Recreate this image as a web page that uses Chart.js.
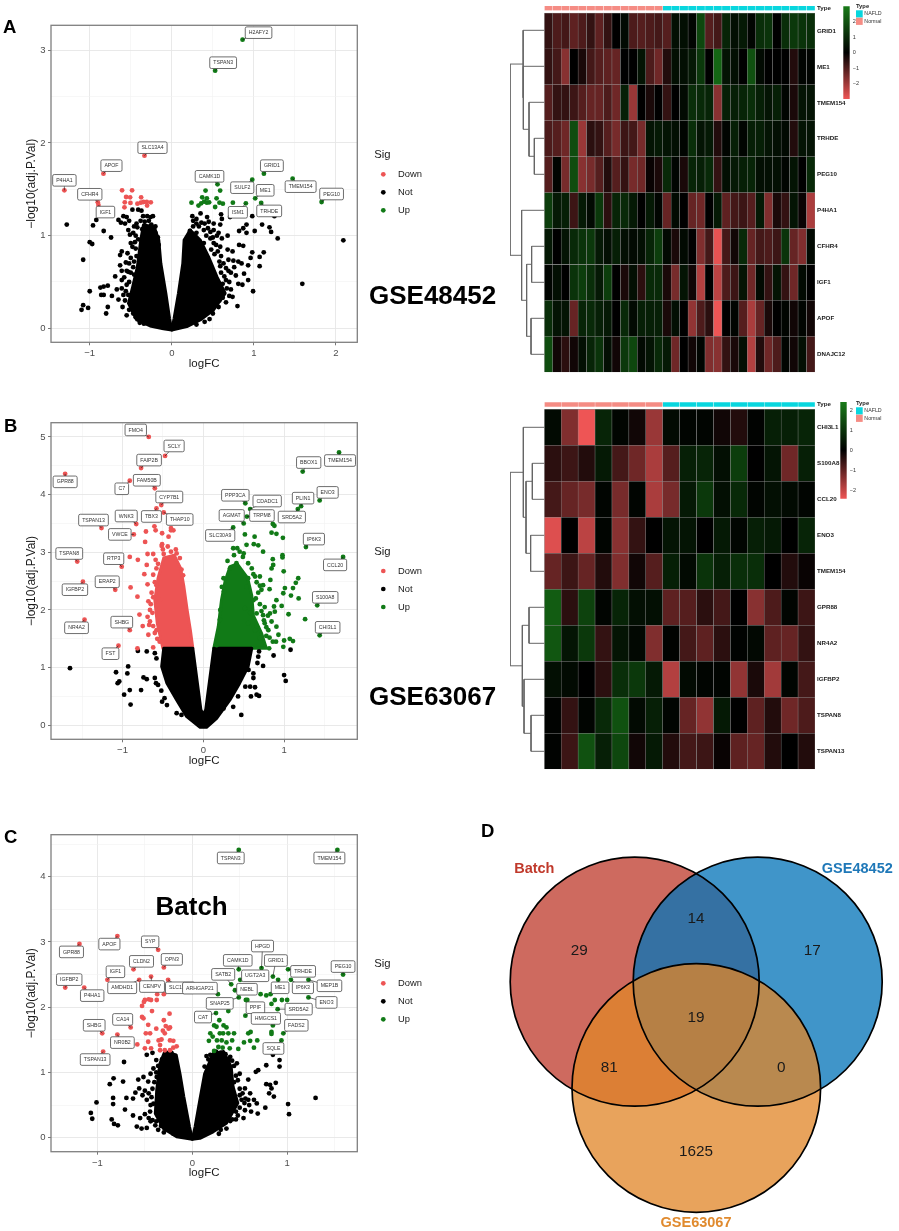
<!DOCTYPE html>
<html>
<head>
<meta charset="utf-8">
<title>Volcano, heatmap and Venn panels</title>
<script src="https://cdn.jsdelivr.net/npm/chart.js@4/dist/chart.umd.min.js"></script>
<style>
  html, body { margin: 0; background: #fff; }
  body { position: relative; width: 899px; height: 1231px; overflow: hidden; font-family: "Liberation Sans", Arial, sans-serif; }
  canvas { position: absolute; }
  .txt { position: absolute; font-weight: bold; line-height: 1; color: #000; white-space: nowrap; z-index: 5; }
  .letra { font-size: 18.5px; }
  .grande { font-size: 26px; }
</style>
</head>
<body>
<div class="txt letra" style="left:3px;top:18px">A</div>
<div class="txt letra" style="left:4px;top:417px">B</div>
<div class="txt letra" style="left:4px;top:828px">C</div>
<div class="txt letra" style="left:481px;top:822px">D</div>
<div class="txt grande" style="left:369px;top:282px">GSE48452</div>
<div class="txt grande" style="left:369px;top:683px">GSE63067</div>
<div class="txt grande" style="left:155.5px;top:893px">Batch</div>

<canvas id="volcA" width="450" height="380" style="left:0;top:0"></canvas>
<canvas id="volcB" width="450" height="380" style="left:0;top:400px"></canvas>
<canvas id="volcC" width="450" height="380" style="left:0;top:810px"></canvas>
<canvas id="dendA" width="35" height="380" style="left:510px;top:0"></canvas>
<canvas id="heatA" width="315" height="380" style="left:540px;top:0"></canvas>
<canvas id="barA" width="61" height="110" style="left:838px;top:0"></canvas>
<canvas id="dendB" width="35" height="380" style="left:510px;top:395px"></canvas>
<canvas id="heatB" width="315" height="380" style="left:540px;top:395px"></canvas>
<canvas id="barB" width="61" height="110" style="left:835px;top:395px"></canvas>
<canvas id="venn" width="439" height="421" style="left:460px;top:810px"></canvas>

<script>
// ===== DADOS: PAINEL A =====
const genesA = ["H2AFY2","TSPAN3","SLC13A4","APOF","P4HA1","CFHR4","IGF1","CAMK1D","GRID1","SULF2","ME1","TMEM154","PEG10","ISM1","TRHDE"];
const genesAPts = [[.862,3.115],[.528,2.78],[-.333,1.863],[-.833,1.669],[-1.309,1.489],[-.902,1.36],[-.894,1.33],[.557,1.554],[1.122,1.669],[.98,1.604],[1.016,1.403],[1.472,1.615],[1.825,1.363],[.902,1.349],[1.089,1.353]];
const genesAOff = [[16,-7],[8,-8],[8,-8],[8,-8],[0,-10],[-8,-8],[7,7],[-8,-8],[8,-8],[-10,8],[10,-8],[8,8],[10,-8],[-8,9],[8,8]];
const downA = [[-.606,1.489],[-.484,1.489],[-.557,1.417],[-.508,1.414],[-.374,1.414],[-.573,1.36],[-.577,1.306],[-.504,1.353],[-.419,1.345],[-.378,1.356],[-.346,1.363],[-.305,1.363],[-.256,1.36],[-.301,1.324]];
const upA = [[.24,1.356],[.325,1.324],[.358,1.349],[.37,1.414],[.411,1.486],[.394,1.367],[.427,1.403],[.455,1.36],[.427,1.356],[.528,1.309],[.545,1.403],[.589,1.486],[.581,1.356],[.622,1.345],[.744,1.356]];
const notA = [[-1.28,1.12],[-.96,1.11],[-.92,1.17],[-.83,1.05],[-.74,.98],[-1,.93],[-.97,.91],[-1.08,.74],[-1,.4],[-.87,.44],[-.83,.45],[-.78,.46],[-.86,.36],[-.83,.36],[-.73,.35],[-1.08,.25],[-1.1,.2],[-1.02,.22],[-.78,.23],[-.8,.16],[-.65,1.17],[-.59,1.21],[-.57,1.13],[-.53,1.06],[-.48,1.28],[-.41,1.28],[-.37,1.27],[-.3,1.21],[-.23,1.21],[-.35,1.21],[-.43,1.13],[-.47,1.03],[-.51,1.01],[-.48,.88],[-.44,.86],[-.63,.79],[-.61,.83],[-.54,.81],[-.63,.68],[-.56,.71],[-.61,.62],[-.53,.61],[-.69,.56],[-.61,.52],[-.67,.42],[-.61,.43],[-.55,.47],[-.65,.31],[-.59,.36],[-.55,.14],[-.39,.06],[-.34,.05],[-.6,.23],[-.49,.29],
  [-.38,1.16],[-.33,1.15],[-.28,1.16],[-.25,1.12],[-.22,1.08],[-.2,1.03],[-.42,1.09],[-.36,1.07],[-.44,1],[-.41,.96],[-.45,.93],[-.43,.78],[-.46,.72],[-.47,.66],[-.5,.6],[-.46,.58],[-.52,.5],[-.56,.4],[-.53,.36],[-.57,.3],[-.52,.2],[-.47,.16],[-.44,.12],[-.5,.76],[-.52,.7],[-.58,.55],[-.55,.62],[-.5,.92],[-.46,1.1],[-.52,1.16],[-.55,1.2],[-.62,1.14],[-.2,1.1],[-.26,1.2],[-.17,.98],[-.16,.9],
  [2.09,.95],[1.59,.48],[1.29,.97],[1.25,1.21],[1.21,1.04],[1.19,1.09],[1.1,1.12],[1.12,.82],[1.07,.77],[1.07,.67],[1.01,1.05],[.98,1.21],[.91,1.12],[.87,1.08],[.82,1.05],[.91,1.03],[.82,.9],[.87,.89],[.98,.82],[.96,.76],[.93,.68],[.81,.72],[.75,.73],[.85,.7],[.74,.83],[.69,.74],[.88,.59],[.78,.57],[.81,.48],[.86,.47],[.93,.52],[.99,.4],[.8,.24],[.74,.34],[.68,1],[.59,1.12],[.51,1.06],[.43,1.2],[.35,1.24],[.25,1.21],[.3,1.13],[.51,1.13],[.6,1.23],[.61,1.18],[.71,1.2],[.59,.88],[.51,.92],[.47,.97],[.61,.97],[.57,1.03],[.39,1.06],[.3,1.03],[.24,.95],[.19,.84],[.39,.92],[.69,.62],[.64,.56],[.59,.67],[.59,.47],[.67,.43],[.46,.1],[.57,.23],
  [.2,.97],[.22,1.05],[.26,1.1],[.3,1.18],[.33,1.1],[.36,1.14],[.4,1.13],[.44,1.08],[.47,1.04],[.42,1],[.5,.98],[.54,.9],[.56,.83],[.48,.85],[.52,.8],[.6,.78],[.63,.7],[.66,.65],[.6,.6],[.58,.72],[.66,.52],[.7,.5],[.62,.48],[.72,.42],[.7,.35],[.62,.33],[.66,.28],[.58,.3],[.53,.27],[.5,.16],[.4,.07],[.3,.04],[.26,1.16],[.17,.86],[.45,1.15],[.55,1],[.68,.85],[.76,.66],[.72,.6]];
// contorno da nuvem densa de pontos pretos
const cloudALeft = [[0,-.018],[-.028,.108],[-.073,.378],[-.134,.701],[-.159,.953],[-.215,1.097],[-.346,1.115],[-.378,.953],[-.419,.665],[-.476,.45],[-.528,.27],[-.427,.09],[-.264,.025],[-.102,-.004]];
const cloudARight = [[0,-.018],[.028,.108],[.081,.378],[.134,.701],[.15,.953],[.224,1.061],[.346,.953],[.447,.773],[.549,.558],[.65,.378],[.508,.198],[.346,.09],[.183,.018]];

// ===== DADOS: PAINEL B =====
const genesB = ["FMO4","SCLY","FAIP2B","GPR88","C7","FAM50B","CYP7B1","TBX3","THAP10","WNK3","TSPAN13","VWCE","TSPAN8","RTP3","IGFBP2","ERAP2","NR4A2","SHBG","FST","TMEM154","BBOX1","ENO3","PLIN1","SRD5A2","PPP3CA","CDADC1","TRPM8","AGMAT","SLC30A9","IP6K3","CCL20","S100A8","CHI3L1"];
const genesBPts = [[-.675,5],[-.473,4.67],[-.77,4.46],[-1.71,4.36],[-.91,4.24],[-.6,4.11],[-.52,3.82],[-.58,3.76],[-.49,3.69],[-.83,3.49],[-1.26,3.42],[-.86,3.31],[-1.56,2.84],[-1.01,2.75],[-1.49,2.49],[-1.09,2.35],[-1.47,1.83],[-.91,1.65],[-1.05,1.38],[1.68,4.73],[1.23,4.4],[1.44,3.9],[1.21,3.8],[1.17,3.75],[.52,3.85],[.58,3.75],[.54,3.62],[.5,3.5],[.37,3.43],[1.27,3.09],[1.73,2.92],[1.41,2.08],[1.44,1.56]];
const genesBOff = [[-13,-7],[9,-10],[8,-8],[0,8],[-8,8],[-8,-8],[8,-8],[-5,8],[16,7],[-10,-8],[-8,-8],[-14,0],[-8,-8],[-8,-8],[-8,8],[-8,-8],[-8,8],[-8,-8],[-8,8],[1,8],[6,-9],[8,-8],[2,-8],[-6,8],[-10,-8],[17,-8],[15,-1],[-12,-8],[-13,8],[8,-8],[-8,8],[8,-8],[8,-8]];
const downB = [[-.91,2.92],[-.81,2.87],[-.9,2.39],[-.815,2.23],[-.79,1.92],[-.75,1.72],[-.68,1.57],[-.815,1.335],[-.62,1.35],[-.69,1.88],[-.67,1.74],[-.58,1.65],[-.71,3.36],[-.72,3.18],[-.605,3.45],[-.59,3.38],[-.51,3.33],[-.51,3.14],[-.515,3.11],[-.43,3.27],[-.4,3.42],[-.37,3.38],[-.4,3.38],[-.69,2.97],[-.62,2.97],[-.59,2.87],[-.7,2.78],[-.73,2.62],[-.62,2.61],[-.69,2.445],[-.58,2.43],[-.62,2.22],[-.49,2.97],[-.4,3.01],[-.33,2.98],[-.29,2.9],[-.535,2.17],
  [-.65,2.1],[-.63,1.95],[-.66,1.8],[-.6,1.6],[-.57,1.5],[-.62,1.72],[-.64,2.3],[-.6,2.48],[-.58,2.72],[-.56,2.8],[-.5,3.05],[-.44,3.1],[-.34,3.05],[-.27,2.7],[-.25,2.6],[-.54,1.45],[-.66,2],[-.68,2.15]];
const upB = [[.42,3.07],[.37,3.07],[.535,3.13],[.515,3.31],[.635,3.27],[.625,3.14],[.68,3.12],[.74,3.01],[.86,3.49],[.88,3.46],[.845,3.34],[.905,3.32],[.985,3.25],[.98,2.95],[.98,2.91],[.86,2.88],[.865,2.78],[.845,2.72],[.995,2.67],[.83,2.52],[.7,2.58],[.64,2.58],[.74,2.43],[.72,2.35],[.82,2.36],[1.01,2.38],[.99,2.29],[1.175,2.55],[1.145,2.47],[1.11,2.38],[1.085,2.25],[1.18,2.2],[.905,2.17],[.875,2.06],[.97,2.07],[1.055,1.925],[1.26,1.84],[.885,1.97],[.825,1.94],[.74,1.91],[.76,1.77],[.845,1.8],[.905,1.71],[.805,1.65],[.93,1.57],[1,1.47],[1.07,1.5],[1.11,1.46],[.99,1.36],[.815,1.335],[.7,1.51],[.64,1.65],[.555,1.77],[.66,1.94],[.515,2.03],[.62,2.17],[.535,2.4],[.555,2.55],[.41,2.81],[.33,2.72],[.555,2.81],[.49,2.92],[.45,3.01],[.255,2.32],[.205,1.83],[.165,1.39],
  [.62,2.62],[.66,2.48],[.68,2.3],[.7,2.1],[.72,1.98],[.75,1.82],[.78,1.7],[.82,1.52],[.86,1.45],[.7,2.42],[.6,2.72],[.5,2.98],[.38,2.95],[.3,2.85],[.58,1.95],[.66,1.72],[.25,2.55],[.23,2.4],[.21,2],[.65,2.2],[.78,1.55],[.9,1.45],[.76,2.05],[.8,1.9]];
const notB = [[-1.65,.99],[-1.08,.92],[-.93,1.02],[-.94,.9],[-1.04,.76],[-1.06,.73],[-.98,.53],[-.91,.61],[-.77,.61],[-.9,.36],[-.81,1.29],[-.7,1.28],[-.6,1.25],[-.74,.83],[-.7,.8],[-.6,.82],[-.585,.73],[-.56,.7],[-.52,.6],[-.48,.47],[-.51,.41],[-.45,.35],[-.33,.21],[-.27,.18],[-.58,1.16],[-.49,1.02],[.47,.18],[1,.87],[1.02,.77],[1.08,1.31],[.87,1.21],[.69,1.28],[.67,1.08],[.74,1.03],[.62,.9],[.66,.53],[.69,.51],[.59,.5],[.64,.66],[.58,.67],[.52,.67],[.43,.5],[.37,.32],[.25,.29],[.62,.82],[.56,.96],[.68,1.19]];
const cloudBDown = [[-.13,1.335],[-.16,1.65],[-.2,2],[-.24,2.4],[-.28,2.72],[-.36,2.95],[-.49,2.9],[-.56,2.55],[-.6,2.17],[-.57,1.77],[-.5,1.335]];
const cloudBUp = [[.13,1.335],[.185,1.71],[.225,2.17],[.27,2.5],[.33,2.75],[.42,2.8],[.55,2.55],[.6,2.25],[.62,1.9],[.72,1.6],[.78,1.335]];
const cloudBNot = [[-.13,1.335],[-.03,.27],[0,.18],[.03,.27],[.13,1.335],[.6,1.335],[.555,1.02],[.45,.73],[.33,.44],[.165,.12],[.04,-.035],[-.04,-.035],[-.205,.15],[-.33,.44],[-.45,.73],[-.515,1.02],[-.49,1.335]];

// ===== DADOS: PAINEL C =====
const genesC = ["TSPAN3","TMEM154","APOF","GPR88","SYP","IGFBP2","P4HA1","IGF1","CLDN2","OPN3","AMDHD1","SLC13A4","CENPV","ARHGAP21","CAMK1D","HPGD","GRID1","SATB2","UGT2A3","NEBL","SNAP25","TRHDE","ME1","IP6K3","MEP1B","PEG10","ENO3","SRD5A2","PPIF","CAT","HMGCS1","FADS2","SQLE","CA14","SHBG","NR0B2","TSPAN13"];
const genesCPts = [[.49,4.41],[1.53,4.41],[-.79,3.09],[-1.19,2.97],[-.36,2.88],[-1.34,2.3],[-1.14,2.3],[-.895,2.42],[-.62,2.58],[-.3,2.61],[-.56,2.42],[-.255,2.42],[-.435,2.47],[.27,2.2],[.49,2.58],[.73,2.6],[.85,2.47],[.41,2.35],[.505,2.42],[.45,2.26],[.49,2.15],[1.01,2.58],[.905,2.42],[1.04,2.42],[1.225,2.42],[1.59,2.5],[1.225,2.15],[.9,1.97],[.56,1.87],[.25,1.91],[.85,1.72],[.96,1.6],[.94,1.49],[-.65,1.69],[-.95,1.6],[-.79,1.58],[-.94,1.32]];
const genesCOff = [[-8,8],[-8,8],[-8,8],[-8,8],[-8,-8],[4,-8],[8,8],[8,-8],[8,-8],[8,-8],[-17,8],[12,8],[1,10],[-18,-6],[-1,-9],[1,-22],[3,-16],[-8,-10],[15,-4],[12,-1],[-19,6],[15,2],[2,8],[12,8],[21,6],[0,-8],[18,5],[21,0],[10,-8],[-13,4],[-7,-7],[13,-8],[-8,8],[-8,-8],[-8,-8],[5,8],[-8,8]];
const downC = [[-.37,2.2],[-.3,2.2],[-.375,2.11],[-.46,2.12],[-.5,2.11],[-.51,2.08],[-.53,2.02],[-.435,2.11],[-.425,1.94],[-.24,1.9],[-.53,1.85],[-.515,1.83],[-.465,1.73],[-.3,1.8],[-.38,1.67],[-.28,1.71],[-.235,1.69],[-.25,1.67],[-.31,1.64],[-.29,1.6],[-.49,1.6],[-.445,1.6],[-.465,1.47],[-.355,1.49],[-.325,1.505],[-.235,1.49],[-.2,1.485],[-.58,1.43],[-.5,1.37],[-.435,1.37],[-.34,1.42],[-.165,1.4],[-.2,1.38],[-.235,1.34],[-.34,1.34],[-.29,1.34]];
const upC = [[.72,2.2],[.78,2.18],[.825,2.2],[.87,2.11],[.835,2.05],[.945,2.11],[1,2.11],[.565,2.11],[.58,2.11],[.38,1.94],[.285,1.8],[.23,1.72],[.255,1.7],[.33,1.72],[.36,1.69],[.19,1.6],[.29,1.6],[.325,1.6],[.38,1.6],[.44,1.6],[.59,1.6],[.615,1.62],[.175,1.485],[.215,1.55],[.26,1.49],[.31,1.49],[.36,1.46],[.42,1.49],[.545,1.46],[.61,1.485],[.685,1.49],[.65,1.38],[.275,1.39],[.32,1.38],[.395,1.37],[.485,1.36],[.23,1.33],[.835,1.62],[.835,1.59]];
const notC = [[-.72,1.16],[-.83,.91],[-.87,.82],[-.73,.86],[-1.01,.54],[-.835,.61],[-.835,.515],[-1.07,.38],[-1.055,.29],[-.695,.61],[-.71,.43],[-.625,.6],[-.625,.34],[-.57,.89],[-.56,.755],[-.6,.69],[-.525,.65],[-.85,.28],[-.825,.21],[-.785,.19],[-.585,.17],[-.535,.14],[-.48,.15],[-.48,1.27],[-.42,1.3],[-.515,.93],[-.465,.86],[-.48,.58],[-.445,.4],[-.42,.27],[-.46,.3],[-.41,1.06],[-.38,1.19],[-.375,.93],
  [-.32,1.2],[-.27,1.28],[-.22,1.3],[-.34,1.04],[-.38,1],[-.4,.85],[-.42,.75],[-.43,.62],[-.41,.52],[-.44,.5],[-.38,.25],[-.33,.18],[-.36,.12],[-.3,.08],[-.2,.06],[-.46,.68],[-.5,.72],[-.36,1.1],[-.44,.98],[-.44,.25],[-.39,.19],[-.5,.36],[-.55,.3],
  [1.3,.61],[1.01,.515],[1.02,.36],[.88,.84],[.82,.81],[.78,.82],[.835,.755],[.81,.68],[.86,.63],[.77,.46],[.69,.37],[.65,.58],[.68,.525],[.92,1.09],[.92,1.19],[.78,1.11],[.85,1.27],[.695,1.035],[.67,1.01],[.59,.89],[.555,.755],[.61,.68],[.59,.58],[.555,.42],[.54,.3],[.4,.255],[.47,1.14],[.4,1.24],[.19,1.27],[.13,1.09],[.5,.98],
  [.17,1.2],[.15,1.25],[.25,1.32],[.3,1.3],[.35,1.28],[.38,1.2],[.42,1.18],[.44,1.1],[.46,.95],[.48,.88],[.44,.85],[.5,.75],[.53,.68],[.52,.58],[.5,.46],[.46,.4],[.48,.34],[.42,.28],[.36,.14],[.3,.12],[.28,.06],[.44,.5],[.5,.65],[.56,.6],[.55,.53],[.6,.5],[.46,.28],[.62,.4],[.28,1.23],[.33,1.2]];
const cloudCLeft = [[0,-.025],[-.03,.17],[-.09,.63],[-.13,.98],[-.17,1.27],[-.29,1.32],[-.34,1.14],[-.375,.73],[-.39,.37],[-.305,.14],[-.165,.015]];
const cloudCRight = [[0,-.025],[.03,.17],[.08,.58],[.13,.98],[.22,1.29],[.33,1.32],[.41,1.09],[.43,.78],[.48,.53],[.36,.22],[.22,.09],[.08,-.01]];

// ===== DADOS: HEATMAPS =====
const heatRowsA = ["GRID1","ME1","TMEM154","TRHDE","PEG10","P4HA1","CFHR4","IGF1","APOF","DNAJC12"];
const heatTypesA = [14, 18];
const heatA = [
  [-.6,-.9,-.8,-1.1,-.9,-.6,-1.1,-.6,0,.2,-.9,-1,-.9,-.8,-1,.3,.3,.1,1.4,-1,-.8,.7,.3,.5,.1,.9,1,0,.9,1.1,1,.9],
  [-.6,-.8,-1.6,0,-.3,-.8,-1,-1.1,-1.2,0,0,.4,-.9,-1.3,-.4,.3,.3,.5,1.1,0,2,.4,.3,0,1.6,.2,0,0,0,-.4,.1,.1],
  [-1,-.6,-.6,-.7,-1,-1.2,-1.2,-.9,-1.3,.6,-1.8,0,-.3,0,-.6,0,.2,.9,.8,.7,-1.6,.6,.6,.7,.9,.6,.4,.6,.1,-.3,.4,.4],
  [-.9,-1,-1.3,1.5,-1.8,-.5,-.6,-1,-1.4,-.7,-.8,-1.4,.4,.5,.4,.3,.1,.9,.4,.5,-.4,.1,.6,.1,.6,.6,.4,.3,.2,-.4,.4,.4],
  [-1,.1,-1.4,1.5,-1.6,-1.4,-1,-.4,-1,-.6,-1.4,-1.3,-.1,-.3,.8,.1,-.3,.7,.6,.8,-.6,.3,.5,.6,.7,.3,.3,.3,.1,.4,0,.8],
  [1.2,.5,.6,-.7,.5,.2,1.1,-.5,.7,.8,.5,0,.5,.1,-1.2,.2,0,-1.2,-1.3,0,.5,-1.1,-.8,-.7,-1,.5,-1.5,-.3,-.6,.4,-.1,-2],
  [.5,0,.4,.8,1,1.1,.5,.3,.6,.3,.2,.3,.7,1.2,.2,-.3,.2,0,-1.5,-.8,-2.7,-.8,-.2,.8,-1.2,-.8,-.9,-.7,1,-1.2,-1.5,.2],
  [.1,.3,0,1,1.2,.9,.5,1.2,0,-.3,.3,-.5,.8,.8,-.3,-1.4,.4,-.2,-2.1,0,-2.2,-.9,-.7,.4,-1.3,.2,-.6,.4,-.6,-1.3,.2,0],
  [.9,.4,.4,-1.2,.7,.8,.6,.5,0,.8,.2,.6,.6,.6,-.3,.3,0,-1.7,-.9,-.5,-2.8,0,.1,-1,-2,-1.2,-.3,0,.1,-.2,.1,-.2],
  [1.5,-.2,-.5,-.2,.3,.7,1,.3,-.2,1.1,1.4,.2,.4,.8,.5,-1.3,0,-.2,.1,-1.5,-1.6,-.6,-.3,.3,-2.1,-.4,-1.3,-.9,.1,-.2,.3,-.8]
];
const heatRowsB = ["CHI3L1","S100A8","CCL20","ENO3","TMEM154","GPR88","NR4A2","IGFBP2","TSPAN8","TSPAN13"];
const heatTypesB = [7, 9];
const heatB = [
  [.2,-1.5,-2.8,.7,.1,-.2,-1.8,.2,.1,.1,-.2,-.4,.05,.6,.6,.7],
  [-.5,-.7,-.4,.5,-.8,-1.3,-2,-1,.6,.7,.3,1.2,0,.4,-1.3,.6],
  [-.8,-1.2,-1.4,.1,-1.4,.1,-2,-1.4,.5,1.1,.3,.8,.1,.3,.2,.1],
  [-2.6,0,-2.2,.1,-1.6,-.6,0,.4,.4,0,.5,.1,.6,.5,0,.7],
  [-1.2,-.7,-1.2,-.4,-1.5,-.2,-1,.6,.2,1,.6,.9,.9,0,-.4,-.1],
  [1.8,-.5,1.3,.1,.7,.3,.3,-1.1,-1,-.5,-.8,0,-1.6,-.9,.1,-.7],
  [1.7,.4,1.1,-.6,.4,.15,-1.5,.05,-.8,-1.1,-.5,.05,.15,-1.1,-1.2,-.6],
  [.3,.2,0,-.5,.9,1.1,.5,-2.1,.2,.1,.1,-1.7,-.3,-1.9,.1,-.8],
  [.05,-.6,.1,.8,1.6,.2,.6,.1,-1.2,-1.7,.5,0,-1.1,-.4,-1.3,-.9],
  [.05,-.7,1.6,.6,1.4,-.2,.5,-.4,-.8,-.7,-.1,-1.1,-1.2,-.4,0,-.4]
];
// dendrogramas: [linha1, linha2, altura, altura do filho 1, altura do filho 2]
const dendroA = [[3,4,10,0,0],[2,3.5,15.3,0,10],[1,2.75,21,0,15.3],[0,1.875,21.3,0,21],[6,7,12.7,0,0],[8,9,13.3,0,0],[6.5,8.5,17.7,12.7,13.3],[5,7.5,22.7,0,17.7],[.9375,6.25,34.3,21.3,22.7]];
const dendroB = [[1,2,12,0,0],[3,4,13.7,0,0],[1.5,3.5,18.3,12,13.7],[0,2.5,21,0,18.3],[5,6,15.3,0,0],[8,9,13.3,0,0],[7,8.5,20.3,0,13.3],[5.5,7.75,22,15.3,20.3],[1.25,6.625,34.3,21,22]];

// ===== DADOS: VENN =====
const vennNames = ["Batch", "GSE48452", "GSE63067"];
const vennX = [174.7, 297.7, 236.3];
const vennY = [171.7, 171.7, 278];
const vennR = [124.5, 124.5, 124.3];
const vennCounts = ["29", "14", "17", "19", "81", "0", "1625"];
const vennCountX = [119.3, 236, 352.3, 236, 149.3, 321.3, 236];
const vennCountY = [141, 109, 141, 208, 257.3, 257.3, 342];
const vennNameX = [74.3, 397.3, 236];
const vennNameY = [59.3, 59.3, 412.7];

// ===== CORES =====
const RED = "#ED5454", GREEN = "#117A17", BLACK = "#000000";
const CYAN = "#08D6DE", SALMON = "#F58C84";
const sigNames = ["Down", "Not", "Up"];

Chart.defaults.font.family = '"Liberation Sans", Arial, sans-serif';
Chart.defaults.animation = false;
Chart.defaults.responsive = false;
Chart.defaults.layout.autoPadding = false;
Chart.defaults.plugins.legend.display = false;
Chart.defaults.plugins.tooltip.enabled = false;

const toXY = a => a.map(([x, y]) => ({ x, y }));

function fmtTick(v) {
    return v < 0 ? "\u2212" + Math.abs(v) : String(v);
}

// ===== EIXO ESTILO THEME_BW =====
function volcanoAxis(min, max, majors, minors) {
    return {
        type: "linear",
        min, max,
        afterBuildTicks: s => {
            s.ticks = [...majors, ...minors].sort((a, b) => a - b)
                .map(v => ({ value: v, major: majors.includes(v) }));
        },
        ticks: {
            autoSkip: false, maxRotation: 0, padding: 2.5,
            color: "#4d4d4d", font: { size: 9.5 },
            callback: v => majors.includes(v) ? fmtTick(v) : ""
        },
        grid: {
            color: c => c.tick && c.tick.major ? "#e6e6e6" : "#f2f2f2",
            lineWidth: c => c.tick && c.tick.major ? 0.9 : 0.6,
            tickColor: c => c.tick && c.tick.major ? "#555" : "transparent",
            tickWidth: 0.8,
            tickLength: 3
        },
        border: { display: false }
    };
}

function dots(points, color) {
    return { data: toXY(points), backgroundColor: color, borderWidth: 0, pointRadius: 2.4 };
}

// ===== VOLCANO =====
function volcano(id, cfg) {
    const { genes, pts, off, legendY, top, xAxis, yAxis, bottomPad } = cfg;
    const sigDown = cfg.down.concat(pts.filter(p => p[0] < 0));
    const sigUp = cfg.up.concat(pts.filter(p => p[0] > 0));

    const clouds = {
        id: "clouds",
        beforeDatasetsDraw(chart) {
            const { ctx, scales } = chart;
            ctx.save();
            ctx.lineJoin = "round";
            ctx.lineWidth = 3;
            cfg.clouds.forEach(([outline, color]) => {
                ctx.beginPath();
                outline.forEach(([x, y]) => {
                    ctx.lineTo(scales.x.getPixelForValue(x), scales.y.getPixelForValue(y));
                });
                ctx.closePath();
                ctx.fillStyle = ctx.strokeStyle = color;
                ctx.fill();
                ctx.stroke();
            });
            ctx.restore();
        }
    };

    const decor = {
        id: "decor",
        afterDatasetsDraw(chart) {
            const { ctx, chartArea: a, scales } = chart;
            ctx.save();
            // caixas com nomes dos genes
            ctx.font = '5.2px "Liberation Sans"';
            ctx.textAlign = "center";
            ctx.textBaseline = "middle";
            genes.forEach((g, i) => {
                const px = scales.x.getPixelForValue(pts[i][0]);
                const py = scales.y.getPixelForValue(pts[i][1]);
                const cx = px + off[i][0], cy = py + off[i][1];
                const w = ctx.measureText(g).width + 7, h = 11.6;
                ctx.strokeStyle = "#111";
                ctx.lineWidth = 0.6;
                ctx.beginPath();
                ctx.moveTo(px, py);
                ctx.lineTo(cx, cy);
                ctx.stroke();
                ctx.beginPath();
                ctx.roundRect(cx - w / 2, cy - h / 2, w, h, 1.6);
                ctx.fillStyle = "#fff";
                ctx.fill();
                ctx.strokeStyle = "#4a4a4a";
                ctx.lineWidth = 0.8;
                ctx.stroke();
                ctx.fillStyle = "#333";
                ctx.fillText(g, cx, cy + 0.2);
            });
            // borda do painel
            ctx.strokeStyle = "#7f7f7f";
            ctx.lineWidth = 1.3;
            ctx.strokeRect(a.left, a.top, a.width, a.height);
            // legenda
            ctx.textAlign = "left";
            ctx.fillStyle = "#1a1a1a";
            ctx.font = '11.3px "Liberation Sans"';
            ctx.fillText("Sig", 374.3, legendY - 19.6);
            ctx.font = '9.4px "Liberation Sans"';
            [RED, BLACK, GREEN].forEach((c, i) => {
                const y = legendY + 18 * i;
                ctx.fillStyle = c;
                ctx.beginPath();
                ctx.arc(383.3, y, 2.35, 0, Math.PI * 2);
                ctx.fill();
                ctx.fillStyle = "#1a1a1a";
                ctx.fillText(sigNames[i], 398, y);
            });
            ctx.restore();
        }
    };

    const datasets = [dots(sigUp, GREEN), dots(sigDown, RED), dots(cfg.not, BLACK)];

    xAxis.title = { display: true, text: "logFC", color: "#1a1a1a", font: { size: 11.5 }, padding: { top: 0, bottom: bottomPad } };
    xAxis.afterFit = s => { s.height = 380 - cfg.bottom; };
    yAxis.title = { display: true, text: "\u2212log10(adj.P.Val)", color: "#1a1a1a", font: { size: 12 }, padding: { top: 24.5, bottom: 0 } };
    yAxis.afterFit = s => { s.width = 51; };

    new Chart(document.getElementById(id), {
        type: "scatter",
        data: { datasets },
        options: {
            layout: { padding: { left: 0, right: 92.7, top, bottom: 0 } },
            scales: { x: xAxis, y: yAxis }
        },
        plugins: [clouds, decor]
    });
}

volcano("volcA", {
    genes: genesA, pts: genesAPts, off: genesAOff, down: downA, up: upA, not: notA,
    clouds: [[cloudALeft, BLACK], [cloudARight, BLACK]],
    legendY: 174.3, top: 25.3, bottom: 342.3, bottomPad: 9,
    xAxis: volcanoAxis(-1.472, 2.26, [-1, 0, 1, 2], [-.5, .5, 1.5]),
    yAxis: volcanoAxis(-.151, 3.27, [0, 1, 2, 3], [.5, 1.5, 2.5])
});
volcano("volcB", {
    genes: genesB, pts: genesBPts, off: genesBOff, down: downB, up: upB, not: notB,
    clouds: [[cloudBDown, RED], [cloudBUp, GREEN], [cloudBNot, BLACK]],
    legendY: 171, top: 22.7, bottom: 339.3, bottomPad: 12,
    xAxis: volcanoAxis(-1.885, 1.906, [-1, 0, 1], [-1.5, -.5, .5, 1.5]),
    yAxis: volcanoAxis(-.243, 5.247, [0, 1, 2, 3, 4, 5], [.5, 1.5, 2.5, 3.5, 4.5])
});
volcano("volcC", {
    genes: genesC, pts: genesCPts, off: genesCOff, down: downC, up: upC, not: notC,
    clouds: [[cloudCLeft, BLACK], [cloudCRight, BLACK]],
    legendY: 173.3, top: 24.7, bottom: 341.7, bottomPad: 10,
    xAxis: volcanoAxis(-1.49, 1.74, [-1, 0, 1], [-.5, .5, 1.5]),
    yAxis: volcanoAxis(-.215, 4.644, [0, 1, 2, 3, 4], [.5, 1.5, 2.5, 3.5, 4.5])
});

// ===== HEATMAP =====
function mix(c, t) {
    t = Math.min(1, t);
    return `rgb(${Math.round(c[0] * t)},${Math.round(c[1] * t)},${Math.round(c[2] * t)})`;
}

function heatColor(v, lo, hi) {
    return v < 0 ? mix([238, 85, 85], -v / lo) : mix([24, 122, 24], v / hi);
}

function heatmap(id, rows, values, types, top, bottom, lo, hi) {
    const GAP = 0.06, ANNOT = 0.143;
    const labels = values[0].map((_, i) => i);
    const border = { borderColor: "#8c8c8c", borderWidth: 0.5 };

    const datasets = rows.map((r, i) => ({
        label: r,
        data: labels.map(() => 1),
        backgroundColor: values[i].map(v => heatColor(v, lo, hi)),
        ...border
    })).reverse();
    datasets.push({ label: "gap", data: labels.map(() => GAP), backgroundColor: "#fff", borderWidth: 0 });
    datasets.push({
        label: "Type",
        data: labels.map(() => ANNOT),
        backgroundColor: labels.map(i => i < types[0] ? SALMON : CYAN),
        borderColor: "rgba(255,255,255,.35)", borderWidth: 0.5
    });

    const yLabels = rows.slice().reverse();
    new Chart(document.getElementById(id), {
        type: "bar",
        data: { labels, datasets },
        options: {
            layout: { padding: { left: 4.3, right: 0, top, bottom } },
            datasets: { bar: { barPercentage: 1, categoryPercentage: 1 } },
            scales: {
                x: { stacked: true, display: false },
                y: {
                    stacked: true, position: "right", min: 0, max: 10 + GAP + ANNOT,
                    afterBuildTicks: s => {
                        s.ticks = yLabels.map((_, i) => ({ value: i + 0.5 }))
                            .concat([{ value: 10 + GAP + ANNOT / 2 }]);
                    },
                    afterFit: s => { s.width = 40; },
                    grid: { display: false, drawTicks: false },
                    border: { display: false },
                    ticks: {
                        autoSkip: false, padding: 2, color: "#222",
                        font: { size: 6.2, weight: "bold" },
                        callback: v => v > 10 ? "Type" : yLabels[Math.floor(v)]
                    }
                }
            }
        }
    });
}

heatmap("heatA", heatRowsA, heatA, heatTypesA, 5, 7.7, 2.8, 2.4);
heatmap("heatB", heatRowsB, heatB, heatTypesB, 7, 5.7, 2.8, 2.4);

// ===== DENDROGRAMA =====
function dendrogram(id, merges, top, bottom) {
    const datasets = merges.map(([y1, y2, h, h1, h2]) => ({
        data: toXY([[h1, y1], [h, y1], [h, y2], [h2, y2]]),
        showLine: true, tension: 0, fill: false, clip: false,
        borderColor: "#666", borderWidth: 1, pointRadius: 0
    }));
    new Chart(document.getElementById(id), {
        type: "scatter",
        data: { datasets },
        options: {
            layout: { padding: { left: 0, right: 0.67, top, bottom } },
            scales: {
                x: { type: "linear", display: false, reverse: true, min: 0, max: 34.33 },
                y: { type: "linear", display: false, reverse: true, min: -0.5, max: 9.5 }
            }
        }
    });
}

dendrogram("dendA", dendroA, 12.3, 7.7);
dendrogram("dendB", dendroB, 14.3, 5.7);

// ===== BARRA DE CORES =====
const cbLegendX = { barA: 18, barB: 21 };
const cbLegendY = { barA: 6.7, barB: 8.7 };

function colorBar(id, range, ticks, top, height, tickPad) {
    const legend = {
        id: "typeLegend",
        afterDraw(chart) {
            const { ctx } = chart;
            const x0 = cbLegendX[id], y0 = cbLegendY[id];
            ctx.save();
            ctx.textBaseline = "middle";
            ctx.textAlign = "left";
            ctx.fillStyle = "#222";
            ctx.font = 'bold 5.8px "Liberation Sans"';
            ctx.fillText("Type", x0, y0);
            ctx.font = '5.3px "Liberation Sans"';
            [["NAFLD", CYAN], ["Normal", SALMON]].forEach(([t, c], i) => {
                const y = y0 + 3.6 + 7.4 * i;
                ctx.fillStyle = c;
                ctx.fillRect(x0, y, 6.7, 7.2);
                ctx.fillStyle = "#333";
                ctx.fillText(t, x0 + 8.3, y + 3.6);
            });
            ctx.restore();
        }
    };
    new Chart(document.getElementById(id), {
        type: "bar",
        data: {
            labels: ["v"],
            datasets: [{
                data: [[-range, range]],
                barPercentage: 1, categoryPercentage: 1, borderWidth: 0,
                backgroundColor: c => {
                    const a = c.chart.chartArea;
                    if (!a) return "#000";
                    const g = c.chart.ctx.createLinearGradient(0, a.top, 0, a.bottom);
                    g.addColorStop(0, "#187a18");
                    g.addColorStop(0.5, "#000");
                    g.addColorStop(1, "#ee5555");
                    return g;
                }
            }]
        },
        options: {
            layout: { padding: { left: 5.3, right: 0, top, bottom: 110 - top - height } },
            scales: {
                x: { display: false },
                y: {
                    position: "right", min: -range, max: range,
                    afterBuildTicks: s => { s.ticks = ticks.map(v => ({ value: v })); },
                    afterFit: s => { s.width = 61 - 5.3 - 6.4; },
                    grid: { display: false, drawTicks: false },
                    border: { display: false },
                    ticks: { autoSkip: false, padding: tickPad, color: "#333", font: { size: 5.5 }, callback: fmtTick }
                }
            }
        },
        plugins: [legend]
    });
}

colorBar("barA", 2.98, [-2, -1, 0, 1, 2], 1.7, 97.3, 3);
colorBar("barB", 2.42, [-2, -1, 0, 1, 2], 7, 96.7, 3);

// ===== VENN =====
function vennSet(i, color) {
    return { data: [{ x: vennX[i], y: vennY[i], r: vennR[i] }], backgroundColor: color, borderWidth: 0, clip: false };
}

const vennText = {
    id: "vennText",
    afterDatasetsDraw(chart) {
        const { ctx, scales } = chart;
        ctx.save();
        ctx.textAlign = "center";
        ctx.textBaseline = "middle";
        ctx.fillStyle = "#1a1a1a";
        ctx.font = '15.3px "Liberation Sans"';
        vennCounts.forEach((t, i) => {
            ctx.fillText(t, scales.x.getPixelForValue(vennCountX[i]), scales.y.getPixelForValue(vennCountY[i]));
        });
        ctx.font = 'bold 14.5px "Liberation Sans"';
        ["#C0392B", "#1F78B8", "#E08A2E"].forEach((c, i) => {
            ctx.fillStyle = c;
            ctx.fillText(vennNames[i], scales.x.getPixelForValue(vennNameX[i]), scales.y.getPixelForValue(vennNameY[i]));
        });
        ctx.restore();
    }
};

new Chart(document.getElementById("venn"), {
    type: "bubble",
    data: {
        datasets: [
            {
                data: vennX.map((x, i) => ({ x, y: vennY[i], r: vennR[i] })),
                backgroundColor: "transparent", borderColor: "#000", borderWidth: 1.7, clip: false
            },
            vennSet(2, "rgba(224,134,39,.755)"),
            vennSet(1, "rgba(4,116,184,.76)"),
            vennSet(0, "rgba(191,59,45,.76)")
        ]
    },
    options: {
        layout: { padding: 0 },
        scales: {
            x: { type: "linear", display: false, min: 0, max: 439 },
            y: { type: "linear", display: false, reverse: true, min: 0, max: 421 }
        }
    },
    plugins: [vennText]
});
</script>
</body>
</html>
